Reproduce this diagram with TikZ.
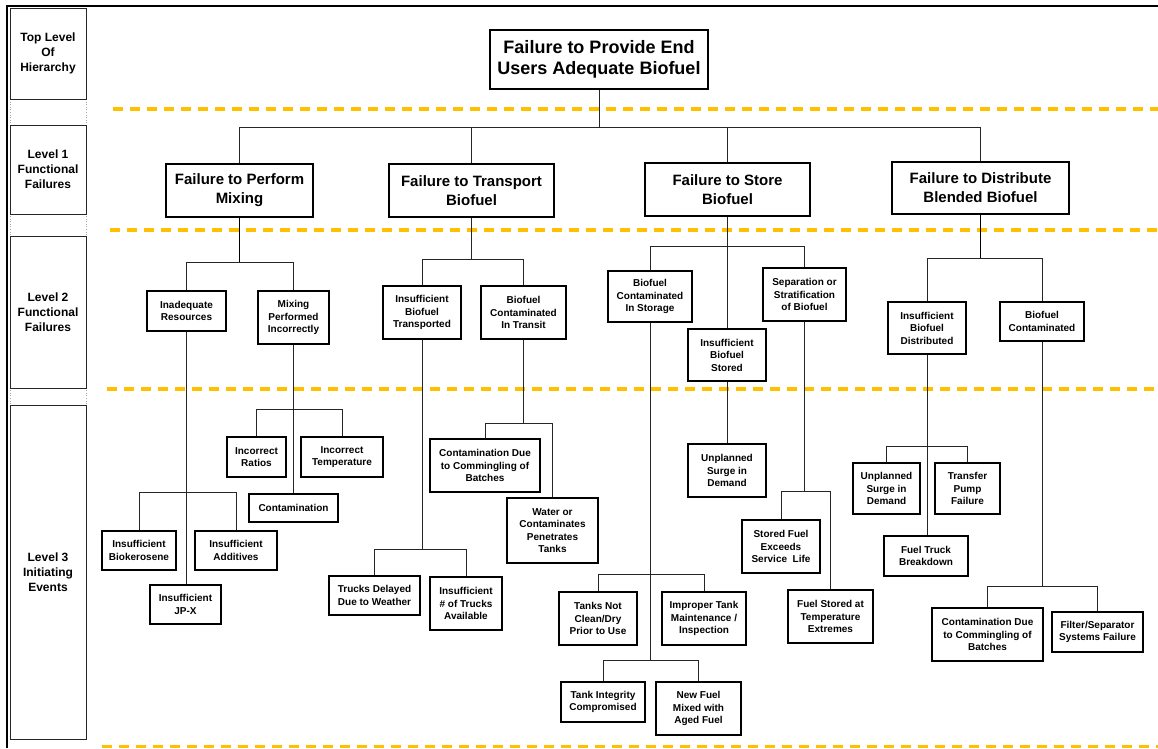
\documentclass[tikz,border=0pt]{standalone}
\usepackage{fontspec}
\setmainfont{Liberation Sans}
\definecolor{sepcol}{HTML}{FFC000}
\newcommand\mkbox[7]{%
  \node[#1, minimum width={(#5-#3)*1pt}, minimum height={(#6-#4)*1pt}] (#2) at ({(#3+#5)/2},{(#4+#6)/2}) {#7};}
\begin{document}
\begin{tikzpicture}[x=1pt,y=-1pt,
  box/.style={draw=black, line width=1.1pt, rectangle, inner sep=0pt, align=center, fill=white},
  topbox/.style={box, font=\bfseries\fontsize{18}{21}\selectfont},
  lonebox/.style={box, font=\bfseries\fontsize{15}{19}\selectfont},
  ltwobox/.style={box, font=\bfseries\fontsize{10}{12.5}\selectfont},
  lthreebox/.style={box, font=\bfseries\fontsize{10}{12.5}\selectfont},
  levelbox/.style={box, draw=black!85, line width=1pt, font=\bfseries\fontsize{12}{15}\selectfont},
  conn/.style={line width=0.9pt, draw=black!85},
  trunk/.style={line width=1.6pt, draw=black},
  sepline/.style={draw=sepcol, line width=3.5pt, dash pattern=on 10pt off 7pt}]
\useasboundingbox (0,0) rectangle (1158,748);
\fill[white] (0,0) rectangle (1158,748);
% frame
\draw[line width=2.2pt] (7,748) -- (7,6) -- (1158,6);
% level column
\draw[dotted, gray!70, line width=0.6pt] (10,8) -- (10,739);
\draw[dotted, gray!70, line width=0.6pt] (86,8) -- (86,739);
\mkbox{levelbox}{LC0}{10}{8}{86}{99}{Top Level\\Of\\Hierarchy}
\mkbox{levelbox}{LC1}{10}{125}{86}{214}{Level 1\\Functional\\Failures}
\mkbox{levelbox}{LC2}{10}{236}{86}{388}{Level 2\\Functional\\Failures}
\mkbox{levelbox}{LC3}{10}{405}{86}{739}{Level 3\\Initiating\\Events}
% separators
\draw[sepline] (113,109) -- (1158,109);
\draw[sepline] (110,230) -- (1158,230);
\draw[sepline] (107,389) -- (1158,389);
\draw[sepline] (102,746.5) -- (1158,746.5);
% top and level 1
\mkbox{topbox}{top}{490}{30}{708}{89}{Failure to Provide End\\Users Adequate Biofuel}
\mkbox{lonebox}{L1a}{166}{164}{313}{217}{Failure to Perform\\Mixing}
\mkbox{lonebox}{L1b}{389}{164}{554}{217}{Failure to Transport\\Biofuel}
\mkbox{lonebox}{L1c}{645}{163}{810}{216}{Failure to Store\\Biofuel}
\mkbox{lonebox}{L1d}{892}{162}{1069}{214}{Failure to Distribute\\Blended Biofuel}
% level 2
\mkbox{ltwobox}{IR}{147}{291}{226}{331}{Inadequate\\Resources}
\mkbox{ltwobox}{MPI}{258}{291}{329}{344}{Mixing\\Performed\\Incorrectly}
\mkbox{ltwobox}{IBT}{383}{286}{461}{339}{Insufficient\\Biofuel\\Transported}
\mkbox{ltwobox}{BCT}{481}{286}{566}{339}{Biofuel\\Contaminated\\In Transit}
\mkbox{ltwobox}{BCS}{608}{271}{692}{322}{Biofuel\\Contaminated\\In Storage}
\mkbox{ltwobox}{IBS}{688}{329}{766}{381}{Insufficient\\Biofuel\\Stored}
\mkbox{ltwobox}{SSB}{763}{268}{846}{321}{Separation or\\Stratification\\of Biofuel}
\mkbox{ltwobox}{IBD}{888}{302}{966}{354}{Insufficient\\Biofuel\\Distributed}
\mkbox{ltwobox}{BC}{1000}{302}{1084}{341}{Biofuel\\Contaminated}
% level 3
\mkbox{lthreebox}{Con}{249}{494}{338}{522}{Contamination}
\mkbox{lthreebox}{IRat}{227}{437}{286}{477}{Incorrect\\Ratios}
\mkbox{lthreebox}{ITemp}{301}{437}{383}{477}{Incorrect\\Temperature}
\mkbox{lthreebox}{IBio}{102}{531}{176}{570}{Insufficient\\Biokerosene}
\mkbox{lthreebox}{IAdd}{195}{531}{277}{570}{Insufficient\\Additives}
\mkbox{lthreebox}{IJPX}{150}{585}{221}{624}{Insufficient\\JP-X}
\mkbox{lthreebox}{TDW}{329}{576}{420}{615}{Trucks Delayed\\Due to Weather}
\mkbox{lthreebox}{INT}{430}{577}{502}{630}{Insufficient\\\# of Trucks\\Available}
\mkbox{lthreebox}{CDCa}{430}{439}{540}{492}{Contamination Due\\to Commingling of\\Batches}
\mkbox{lthreebox}{WCP}{507}{498}{598}{563}{Water or\\Contaminates\\Penetrates\\Tanks}
\mkbox{lthreebox}{TNC}{559}{592}{637}{645}{Tanks Not\\Clean/Dry\\Prior to Use}
\mkbox{lthreebox}{ITM}{662}{592}{746}{645}{Improper Tank\\Maintenance /\\Inspection}
\mkbox{lthreebox}{TIC}{561}{682}{645}{722}{Tank Integrity\\Compromised}
\mkbox{lthreebox}{NFM}{656}{682}{741}{735}{New Fuel\\Mixed with\\Aged Fuel}
\mkbox{lthreebox}{USDa}{688}{444}{766}{497}{Unplanned\\Surge in\\Demand}
\mkbox{lthreebox}{SFE}{742}{520}{820}{573}{Stored Fuel\\Exceeds\\Service\ \ Life}
\mkbox{lthreebox}{FST}{788}{590}{873}{643}{Fuel Stored at\\Temperature\\Extremes}
\mkbox{lthreebox}{USDb}{853}{463}{920}{514}{Unplanned\\Surge in\\Demand}
\mkbox{lthreebox}{TPF}{935}{463}{1000}{514}{Transfer\\Pump\\Failure}
\mkbox{lthreebox}{FTB}{884}{536}{968}{576}{Fuel Truck\\Breakdown}
\mkbox{lthreebox}{CDCb}{932}{608}{1043}{661}{Contamination Due\\to Commingling of\\Batches}
\mkbox{lthreebox}{FSF}{1052}{612}{1143}{652}{Filter/Separator\\Systems Failure}
% connectors: top
\coordinate (y0) at (0,127);
\draw[conn] (top.south) -- (top.south |- y0);
\draw[conn] (L1a.north) -- (L1a.north |- y0) -- (L1d.north |- y0) -- (L1d.north);
\draw[conn] (L1b.north) -- (L1b.north |- y0);
\draw[conn] (L1c.north) -- (L1c.north |- y0);
% mixing
\coordinate (ya) at (0,262);
\draw[trunk] (L1a.south) -- (L1a.south |- ya);
\draw[conn] (IR.north) -- (IR.north |- ya) -- (MPI.north |- ya) -- (MPI.north);
\coordinate (yb) at (0,409);
\draw[conn] (MPI.south) -- (MPI.south |- Con.north);
\draw[conn] (IRat.north) -- (IRat.north |- yb) -- (ITemp.north |- yb) -- (ITemp.north);
\coordinate (yc) at (0,492);
\draw[conn] (IR.south) -- (IR.south |- IJPX.north);
\draw[conn] (IBio.north) -- (IBio.north |- yc) -- (IAdd.north |- yc) -- (IAdd.north);
% transport
\coordinate (yd) at (0,259);
\draw[conn] (L1b.south) -- (L1b.south |- yd);
\draw[conn] (IBT.north) -- (IBT.north |- yd) -- (BCT.north |- yd) -- (BCT.north);
\coordinate (ye) at (0,549);
\draw[conn] (IBT.south) -- (IBT.south |- ye);
\draw[conn] (TDW.north) -- (TDW.north |- ye) -- (INT.north |- ye) -- (INT.north);
\coordinate (yf) at (0,423);
\draw[conn] (BCT.south) -- (BCT.south |- yf);
\draw[conn] (CDCa.north) -- (CDCa.north |- yf) -- (WCP.north |- yf) -- (WCP.north);
% store
\coordinate (yg) at (0,246);
\draw[conn] (L1c.south) -- (L1c.south |- IBS.north);
\draw[conn] (BCS.north) -- (BCS.north |- yg) -- (SSB.north |- yg) -- (SSB.north);
\coordinate (yh) at (0,574);
\coordinate (yi) at (0,660);
\draw[conn] (BCS.south) -- (BCS.south |- yi);
\draw[conn] (TNC.north) -- (TNC.north |- yh) -- (ITM.north |- yh) -- (ITM.north);
\draw[conn] (TIC.north) -- (TIC.north |- yi) -- (NFM.north |- yi) -- (NFM.north);
\draw[conn] (IBS.south) -- (IBS.south |- USDa.north);
\coordinate (yj) at (0,491);
\draw[conn] (SSB.south) -- (SSB.south |- yj);
\draw[conn] (SFE.north) -- (SFE.north |- yj) -- (FST.north |- yj) -- (FST.north);
% distribute
\coordinate (yk) at (0,258);
\draw[trunk] (L1d.south) -- (L1d.south |- yk);
\draw[conn] (IBD.north) -- (IBD.north |- yk) -- (BC.north |- yk) -- (BC.north);
\coordinate (yl) at (0,446);
\draw[conn] (IBD.south) -- (IBD.south |- FTB.north);
\draw[conn] (USDb.north) -- (USDb.north |- yl) -- (TPF.north |- yl) -- (TPF.north);
\coordinate (ym) at (0,586);
\draw[conn] (BC.south) -- (BC.south |- ym);
\draw[conn] (CDCb.north) -- (CDCb.north |- ym) -- (FSF.north |- ym) -- (FSF.north);
\end{tikzpicture}
\end{document}
